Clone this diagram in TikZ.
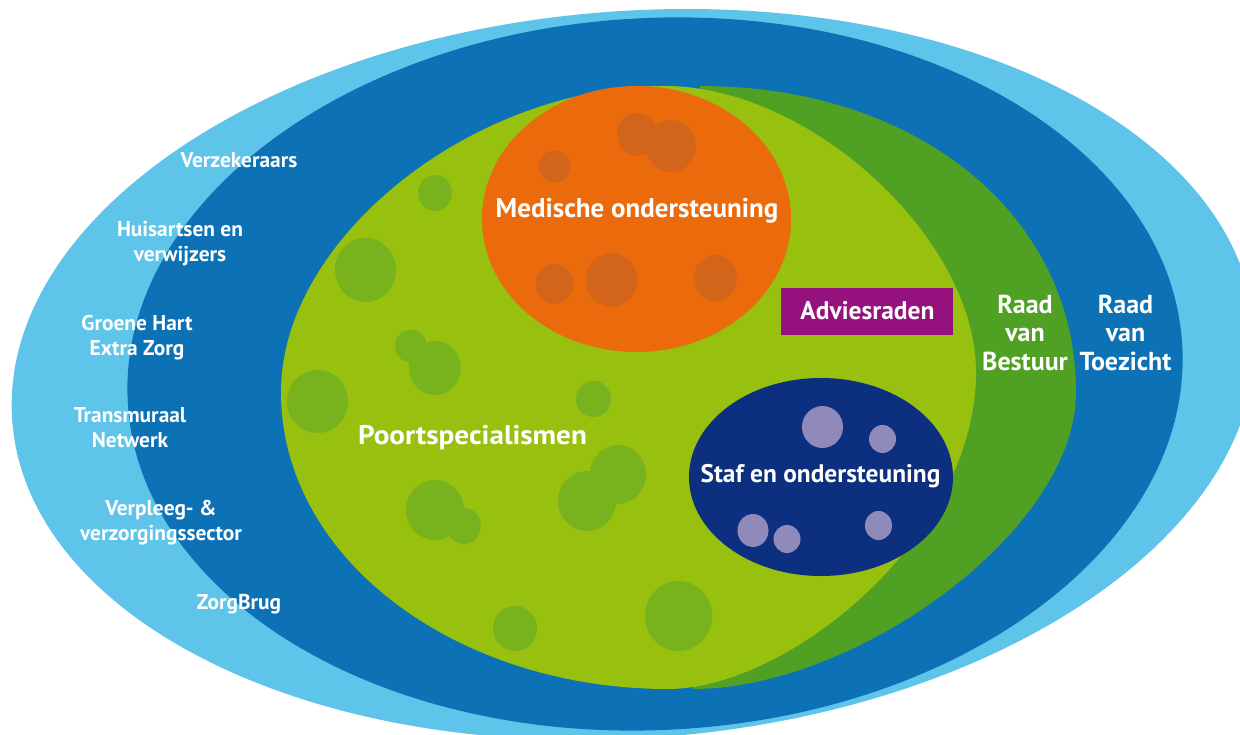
\documentclass[tikz,border=0pt]{standalone}
\usepackage{fontspec}
\setmainfont{PT Sans}
\definecolor{skyband}{RGB}{94,196,234}
\definecolor{boardblue}{RGB}{13,114,181}
\definecolor{boardgreen}{RGB}{80,160,36}
\definecolor{meadow}{RGB}{152,192,14}
\definecolor{meadowdot}{RGB}{120,179,30}
\definecolor{medorange}{RGB}{234,106,12}
\definecolor{medorangedot}{RGB}{210,101,26}
\definecolor{staffnavy}{RGB}{13,47,128}
\definecolor{staffdot}{RGB}{143,138,186}
\definecolor{councilpurple}{RGB}{149,17,126}
\begin{document}
\begin{tikzpicture}[x=1pt,y=-1pt,
  sidelbl/.style={text=white,font=\bfseries\fontsize{21.4}{25}\selectfont,align=center,inner sep=0pt},
  boardlbl/.style={text=white,font=\bfseries\fontsize{26}{28.5}\selectfont,align=center,inner sep=0pt},
  mainlbl/.style={text=white,font=\bfseries\fontsize{27}{30}\selectfont,inner sep=0pt,anchor=base},
  blob/.style={fill=meadowdot},
  oblob/.style={fill=medorangedot},
  sdot/.style={fill=staffdot}]
\useasboundingbox (0,0) rectangle (1240,735);
\clip (0,0) rectangle (1240,735);

% outer rings
\fill[skyband, rotate around={4.3:(633.5,374.5)}] (633.5,374.5) ellipse [x radius=623pt, y radius=363.5pt];
\fill[boardblue, rotate around={3:(655,374)}] (655,374) ellipse [x radius=528pt, y radius=356pt];

% board crescent (its left side stays hidden under the field)
\fill[boardgreen] (693,689) -- (700,86)
  .. controls (918.7,86) and (1076,216) .. (1076,392)
  .. controls (1076,532) and (854.3,689) .. (693,689) -- cycle;

% inner field
\fill[meadow] (281,392)
  .. controls (281,238.7) and (472.4,86) .. (665,86)
  .. controls (810.3,86) and (976,238.7) .. (976,372)
  .. controls (976,537) and (788,689) .. (668,689)
  .. controls (458,689) and (281,560) .. cycle;

% bubbles in the field
\foreach \cx/\cy/\rx/\ry in {435/193/17/18, 365.5/270/30.5/32, 411/346/16/16.5,
  435/368/26/27, 317.5/401.5/30.5/31.5, 593.5/399/17.5/18, 435/510/29/30,
  464/526/17/18, 587/501/29/30, 618/474.5/28/29.5, 515/628.5/22/22.5,
  678.5/616/33.5/35}
  \fill[blob] (\cx,\cy) ellipse [x radius=\rx*1pt, y radius=\ry*1pt];

% medical support
\fill[medorange] (636.5,219) ellipse [x radius=154.5pt, y radius=133pt];
\foreach \cx/\cy/\rx/\ry in {637/134.5/20/21.5, 671/146/25/26, 554.5/166.5/15.5/16,
  554.5/284/18.5/20, 611.5/280/25.5/27, 715.5/278/21.5/23}
  \fill[oblob] (\cx,\cy) ellipse [x radius=\rx*1pt, y radius=\ry*1pt];

% staff and support
\fill[staffnavy] (821,477) ellipse [x radius=132pt, y radius=99pt];
\foreach \cx/\cy/\rx/\ry in {822.5/427/20.5/21, 882.5/439/13.5/14, 753/530.5/15.5/16.5,
  787/539/13.5/14, 878.5/525.5/13.5/14.5}
  \fill[sdot] (\cx,\cy) ellipse [x radius=\rx*1pt, y radius=\ry*1pt];

% advisory councils
\node[fill=councilpurple, minimum width=172pt, minimum height=47pt, inner sep=0pt]
  (advbox) at (867,311.5) {};
\node[mainlbl, font=\bfseries\fontsize{25.5}{28}\selectfont] (adv) at (867.5,319.3) {Adviesraden};

% labels
\node[mainlbl] (med) at (637,217.3) {Medische ondersteuning};
\node[mainlbl] (poort) at (472.5,444.3) {\scalebox{1.08}[1]{Poortspecialismen}};
\node[mainlbl, font=\bfseries\fontsize{25.4}{30}\selectfont] (staf) at (820.5,482.3) {Staf en ondersteuning};

\node[sidelbl, anchor=base] (verz) at (239,167.7) {Verzekeraars};
\node[sidelbl] (huis) at (180,243.9) {\strut Huisartsen en\\\strut verwijzers};
\node[sidelbl] (ghez) at (137,338.3) {\strut Groene Hart\\\strut Extra Zorg};
\node[sidelbl] (trans) at (130,429.5) {\strut Transmuraal\\\strut Netwerk};
\node[sidelbl] (vvs) at (161,522.5) {\strut Verpleeg- \&\\\strut verzorgingssector};
\node[sidelbl, anchor=base] (zorgbrug) at (239,609) {ZorgBrug};

\node[boardlbl] (rvb) at (1025,336.3) {\strut Raad\\\strut van\\\strut Bestuur};
\node[boardlbl] (rvt) at (1125.5,336.3) {\strut Raad\\\strut van\\\strut Toezicht};
\end{tikzpicture}
\end{document}
